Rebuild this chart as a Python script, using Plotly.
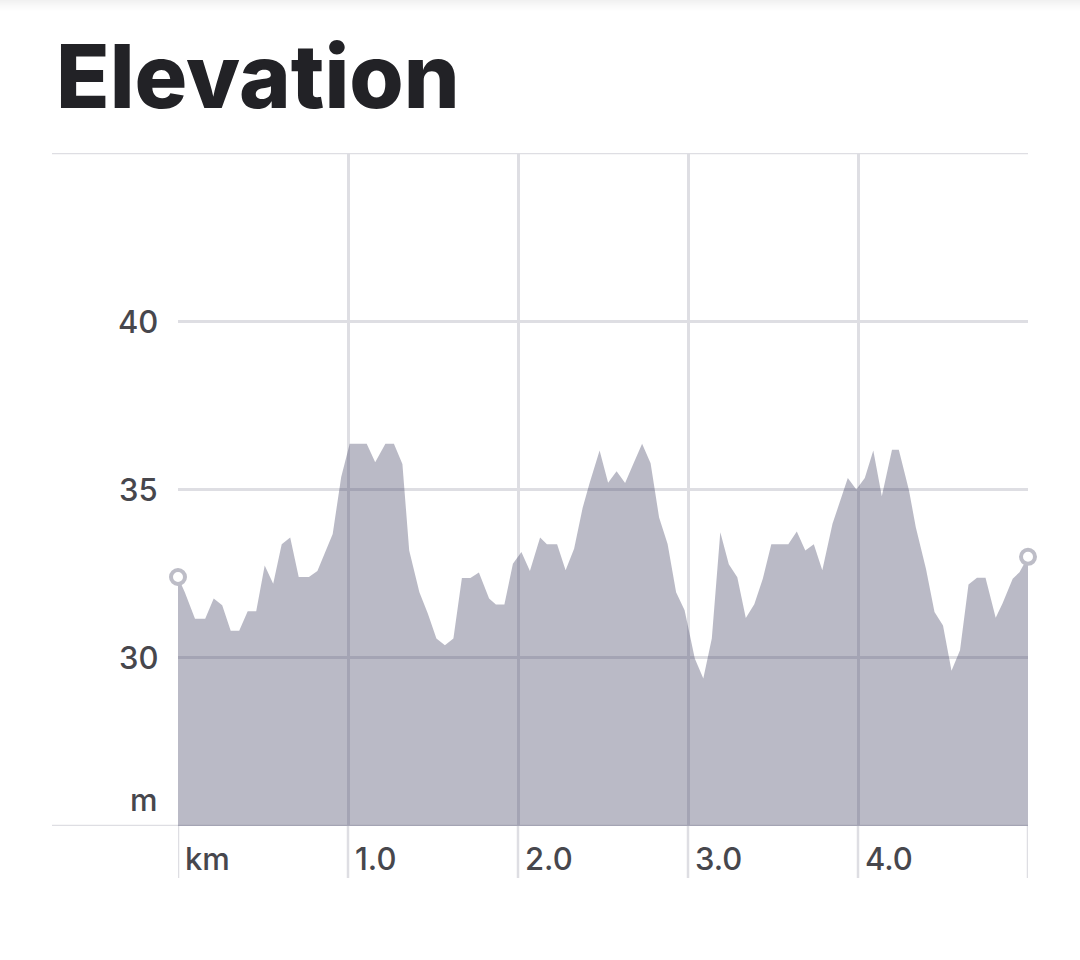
import plotly.graph_objects as go

# ---- data ----
distance_km = [0.00, 0.04, 0.10, 0.16, 0.21, 0.26, 0.31, 0.36, 0.41, 0.46,
               0.51, 0.56, 0.61, 0.66, 0.71, 0.77, 0.82, 0.86, 0.91, 0.96,
               1.01, 1.06, 1.11, 1.16, 1.22, 1.27, 1.32, 1.36, 1.42, 1.47,
               1.52, 1.57, 1.62, 1.67, 1.72, 1.77, 1.83, 1.87, 1.92, 1.97,
               2.02, 2.07, 2.13, 2.17, 2.23, 2.28, 2.33, 2.38, 2.42, 2.48,
               2.53, 2.58, 2.63, 2.68, 2.73, 2.78, 2.83, 2.88, 2.93, 2.98,
               3.04, 3.09, 3.14, 3.19, 3.24, 3.29, 3.34, 3.39, 3.44, 3.49,
               3.54, 3.59, 3.64, 3.69, 3.74, 3.79, 3.85, 3.89, 3.94, 3.99,
               4.04, 4.09, 4.14, 4.20, 4.24, 4.30, 4.34, 4.40, 4.45, 4.50,
               4.55, 4.60, 4.65, 4.70, 4.75, 4.81, 4.85, 4.91, 4.95, 5.00]
elevation_m = [32.40, 31.95, 31.16, 31.16, 31.76, 31.56, 30.80, 30.80, 31.38, 31.38,
               32.74, 32.20, 33.37, 33.57, 32.40, 32.40, 32.58, 33.09, 33.68, 35.37,
               36.36, 36.36, 36.36, 35.81, 36.36, 36.36, 35.76, 33.19, 31.95, 31.31,
               30.57, 30.37, 30.57, 32.37, 32.37, 32.53, 31.76, 31.58, 31.58, 32.79,
               33.14, 32.58, 33.57, 33.37, 33.37, 32.60, 33.24, 34.45, 35.17, 36.16,
               35.20, 35.54, 35.19, 35.78, 36.36, 35.78, 34.17, 33.38, 31.95, 31.41,
               29.98, 29.38, 30.57, 33.73, 32.78, 32.39, 31.18, 31.59, 32.35, 33.37,
               33.37, 33.37, 33.75, 33.19, 33.37, 32.60, 33.98, 34.57, 35.34, 35.00,
               35.34, 36.16, 34.80, 36.18, 36.18, 34.97, 33.88, 32.64, 31.36, 30.96,
               29.61, 30.22, 32.18, 32.38, 32.38, 31.19, 31.61, 32.35, 32.54, 33.00]

x_ticks = [0, 1, 2, 3, 4, 5]
x_tick_labels = ["km", "1.0", "2.0", "3.0", "4.0"]
y_ticks = [25, 30, 35, 40, 45]
y_tick_labels = ["m", "30", "35", "40"]
title_text = "Elevation"

# ---- style ----
W, H = 1080, 960
ML, MR, MT, MB = 178, 52, 153, 134
PW, PH = W - ML - MR, H - MT - MB
GRID = "#dedee3"
FILL = "rgba(58,58,92,0.35)"
LABEL = "#47474d"
FONT = "Inter, 'Noto Sans', sans-serif"

fig = go.Figure()
fig.add_trace(go.Scatter(
    x=distance_km, y=elevation_m, mode="lines", fill="tozeroy",
    fillcolor=FILL, line=dict(width=0, color=FILL), hoverinfo="skip",
    showlegend=False))
fig.add_trace(go.Scatter(
    x=[distance_km[0], distance_km[-1]], y=[elevation_m[0], elevation_m[-1]],
    mode="markers", cliponaxis=False, showlegend=False, hoverinfo="skip",
    marker=dict(symbol="circle", size=14, color="white",
                line=dict(color="#bdbdc7", width=4))))

def py_to_paper(py):
    return (H - MB - py) / PH

def px_to_paper(px):
    return (px - ML) / PW

shapes = []
# top & bottom lines extending to the left
for yv in (y_ticks[0], y_ticks[-1]):
    shapes.append(dict(type="line", xref="paper", yref="y", layer="below",
                       x0=px_to_paper(52), x1=1, y0=yv, y1=yv,
                       line=dict(color=GRID, width=2.5)))
# vertical lines extend below the axis
for xv in x_ticks:
    shapes.append(dict(type="line", xref="x", yref="paper", layer="below",
                       x0=xv, x1=xv, y0=py_to_paper(878), y1=0,
                       line=dict(color=GRID, width=2.5)))
# subtle top shadow (gradient)
for i in range(12):
    shapes.append(dict(type="rect", xref="paper", yref="paper", layer="below",
                       x0=px_to_paper(0), x1=px_to_paper(W),
                       y0=py_to_paper(i + 1), y1=py_to_paper(i),
                       line=dict(width=0),
                       fillcolor="rgba(0,0,0,%.4f)" % (0.055 * (1 - i / 12) ** 1.5)))

annotations = []
annotations.append(dict(text=title_text, xref="paper", yref="paper",
                        x=px_to_paper(54), y=py_to_paper(76), xanchor="left",
                        yanchor="middle", showarrow=False,
                        font=dict(family=FONT, size=88, color="#222226", weight=800)))
for xv, lab in zip(x_ticks, x_tick_labels):
    annotations.append(dict(text=lab, xref="x", yref="paper", x=xv,
                            y=py_to_paper(858), xanchor="left", yanchor="middle",
                            xshift=5, showarrow=False,
                            font=dict(family=FONT, size=31, color=LABEL, weight=500)))
for yv, lab in zip(y_ticks, y_tick_labels):
    annotations.append(dict(text=lab, xref="paper", yref="y", x=px_to_paper(160),
                            y=yv, xanchor="right", yanchor="middle",
                            yshift=(27 if lab == "m" else 0), showarrow=False,
                            font=dict(family=FONT, size=31, color=LABEL, weight=500)))

fig.update_layout(
    width=W, height=H, margin=dict(l=ML, r=MR, t=MT, b=MB, pad=0),
    paper_bgcolor="white", plot_bgcolor="white",
    shapes=shapes, annotations=annotations,
    xaxis=dict(range=[0, 5], tickvals=x_ticks, showticklabels=False,
               showgrid=True, gridcolor=GRID, gridwidth=2.5, zeroline=False,
               showline=False, fixedrange=True),
    yaxis=dict(range=[25, 45], tickvals=y_ticks, showticklabels=False,
               showgrid=True, gridcolor=GRID, gridwidth=2.5, zeroline=False,
               showline=False, fixedrange=True),
)
fig.write_html("out.html")
